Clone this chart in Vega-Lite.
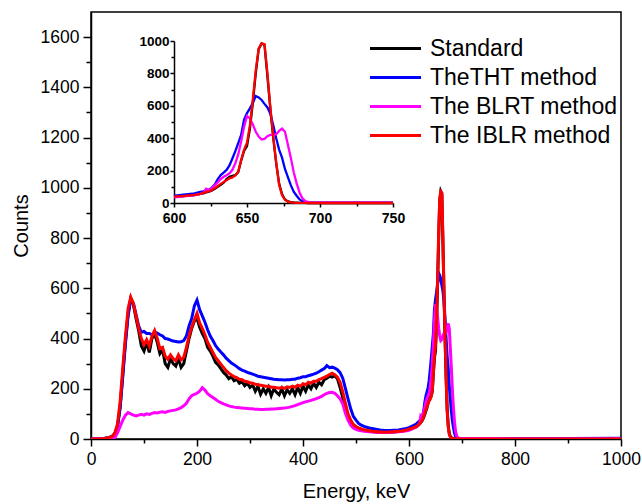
{
"$schema": "https://vega.github.io/schema/vega-lite/v6.json",
"width": 530, "height": 427,
"autosize": "none",
"padding": {"left": 91, "top": 12, "right": 21, "bottom": 65},
"config": {"view": {"stroke": "black", "strokeWidth": 1.5}, "font": "Liberation Sans",
  "axis": {"grid": false, "domainColor": "black", "tickColor": "black", "labelColor": "black", "titleColor": "black", "domainWidth": 1.5, "tickWidth": 1.5, "labelFlush": false, "labelOverlap": false, "titleFontWeight": "normal", "format": "d"}},
"data": {"values": [
{"E":0,"S":0,"T":0,"B":0,"I":0},{"E":10,"S":0,"T":0,"B":0,"I":0},{"E":20,"S":1,"T":1,"B":0,"I":1},{"E":25,"S":2,"T":2,"B":0,"I":2},{"E":30,"S":4,"T":4,"B":0,"I":4},{"E":35,"S":6,"T":6,"B":1,"I":6},{"E":40,"S":10,"T":10,"B":2,"I":11},{"E":45,"S":20,"T":22,"B":6,"I":24},{"E":50,"S":50,"T":50,"B":25,"I":60},{"E":55,"S":130,"T":125,"B":50,"I":150},{"E":60,"S":260,"T":250,"B":75,"I":285},{"E":65,"S":390,"T":380,"B":95,"I":410},{"E":70,"S":500,"T":490,"B":105,"I":520},{"E":75,"S":560,"T":555,"B":100,"I":565},{"E":80,"S":535,"T":540,"B":95,"I":540},{"E":85,"S":480,"T":495,"B":92,"I":490},{"E":90,"S":430,"T":450,"B":95,"I":440},{"E":95,"S":370,"T":425,"B":98,"I":400},
{"E":100,"S":350,"T":428,"B":95,"I":375},{"E":105,"S":385,"T":420,"B":100,"I":395},{"E":110,"S":345,"T":420,"B":98,"I":370},{"E":115,"S":400,"T":415,"B":102,"I":410},{"E":120,"S":420,"T":425,"B":105,"I":432},{"E":125,"S":385,"T":422,"B":104,"I":400},{"E":130,"S":340,"T":415,"B":107,"I":360},{"E":135,"S":355,"T":410,"B":108,"I":365},{"E":140,"S":300,"T":400,"B":106,"I":330},{"E":145,"S":285,"T":398,"B":110,"I":318},{"E":150,"S":320,"T":394,"B":112,"I":335},{"E":155,"S":300,"T":390,"B":114,"I":320},{"E":160,"S":290,"T":388,"B":116,"I":312},{"E":165,"S":320,"T":386,"B":120,"I":335},{"E":170,"S":285,"T":387,"B":125,"I":315},{"E":175,"S":300,"T":392,"B":132,"I":325},{"E":180,"S":350,"T":410,"B":142,"I":365},{"E":185,"S":400,"T":450,"B":160,"I":410},{"E":190,"S":440,"T":480,"B":172,"I":445},{"E":195,"S":470,"T":530,"B":178,"I":475},
{"E":200,"S":480,"T":553,"B":182,"I":500},{"E":205,"S":445,"T":515,"B":190,"I":462},{"E":210,"S":420,"T":490,"B":204,"I":440},{"E":215,"S":400,"T":465,"B":195,"I":415},{"E":220,"S":365,"T":435,"B":180,"I":385},{"E":225,"S":350,"T":410,"B":172,"I":365},{"E":230,"S":330,"T":392,"B":165,"I":345},{"E":235,"S":305,"T":372,"B":158,"I":325},{"E":240,"S":295,"T":358,"B":150,"I":312},{"E":245,"S":280,"T":346,"B":145,"I":298},{"E":250,"S":265,"T":335,"B":140,"I":285},{"E":255,"S":255,"T":322,"B":136,"I":272},{"E":260,"S":240,"T":312,"B":132,"I":262},{"E":265,"S":248,"T":302,"B":129,"I":255},{"E":270,"S":232,"T":296,"B":127,"I":248},{"E":275,"S":238,"T":288,"B":125,"I":244},{"E":280,"S":222,"T":280,"B":124,"I":238},{"E":285,"S":228,"T":274,"B":123,"I":236},{"E":290,"S":212,"T":270,"B":122,"I":230},{"E":295,"S":222,"T":265,"B":121,"I":228},
{"E":300,"S":205,"T":262,"B":120,"I":224},{"E":305,"S":215,"T":258,"B":120,"I":222},{"E":310,"S":190,"T":254,"B":118,"I":218},{"E":315,"S":210,"T":250,"B":118,"I":216},{"E":320,"S":178,"T":248,"B":117,"I":214},{"E":325,"S":200,"T":246,"B":117,"I":212},{"E":330,"S":182,"T":244,"B":118,"I":210},{"E":335,"S":205,"T":242,"B":118,"I":210},{"E":340,"S":172,"T":240,"B":119,"I":206},{"E":345,"S":200,"T":238,"B":119,"I":206},{"E":350,"S":186,"T":237,"B":120,"I":204},{"E":355,"S":176,"T":236,"B":121,"I":202},{"E":360,"S":200,"T":236,"B":122,"I":205},{"E":365,"S":172,"T":235,"B":123,"I":202},{"E":370,"S":196,"T":236,"B":125,"I":208},{"E":375,"S":182,"T":236,"B":127,"I":205},{"E":380,"S":200,"T":238,"B":130,"I":210},{"E":385,"S":176,"T":238,"B":133,"I":206},{"E":390,"S":205,"T":242,"B":137,"I":214},{"E":395,"S":182,"T":244,"B":141,"I":210},
{"E":400,"S":210,"T":248,"B":145,"I":220},{"E":405,"S":190,"T":248,"B":148,"I":216},{"E":410,"S":215,"T":252,"B":151,"I":226},{"E":415,"S":200,"T":255,"B":154,"I":222},{"E":420,"S":222,"T":258,"B":157,"I":230},{"E":425,"S":205,"T":262,"B":161,"I":230},{"E":430,"S":226,"T":268,"B":165,"I":236},{"E":435,"S":216,"T":274,"B":170,"I":240},{"E":440,"S":236,"T":280,"B":176,"I":245},{"E":445,"S":242,"T":292,"B":182,"I":250},{"E":450,"S":250,"T":284,"B":185,"I":257},{"E":455,"S":246,"T":286,"B":186,"I":262},{"E":460,"S":252,"T":282,"B":182,"I":256},{"E":465,"S":240,"T":276,"B":172,"I":246},{"E":470,"S":205,"T":264,"B":160,"I":226},{"E":475,"S":165,"T":242,"B":140,"I":188},{"E":480,"S":122,"T":202,"B":102,"I":142},{"E":485,"S":90,"T":160,"B":75,"I":100},{"E":490,"S":70,"T":120,"B":55,"I":75},{"E":495,"S":55,"T":90,"B":44,"I":58},
{"E":500,"S":48,"T":75,"B":38,"I":50},{"E":505,"S":42,"T":62,"B":35,"I":44},{"E":510,"S":38,"T":55,"B":33,"I":40},{"E":515,"S":35,"T":50,"B":31,"I":37},{"E":520,"S":33,"T":47,"B":30,"I":35},{"E":525,"S":32,"T":44,"B":29,"I":33},{"E":530,"S":30,"T":42,"B":28,"I":31},{"E":535,"S":29,"T":40,"B":27,"I":30},{"E":540,"S":28,"T":38,"B":27,"I":29},{"E":545,"S":28,"T":36,"B":26,"I":28},{"E":550,"S":27,"T":35,"B":26,"I":28},{"E":555,"S":27,"T":34,"B":26,"I":27},{"E":560,"S":27,"T":34,"B":26,"I":28},{"E":565,"S":28,"T":34,"B":27,"I":28},{"E":570,"S":28,"T":35,"B":27,"I":29},{"E":575,"S":29,"T":35,"B":28,"I":30},{"E":580,"S":30,"T":36,"B":29,"I":31},{"E":585,"S":31,"T":38,"B":30,"I":32},{"E":590,"S":33,"T":40,"B":31,"I":34},{"E":595,"S":35,"T":42,"B":33,"I":36},
{"E":600,"S":38,"T":45,"B":35,"I":39},{"E":602,"S":40,"T":47,"B":37,"I":41},{"E":604,"S":41,"T":49,"B":38,"I":42},{"E":606,"S":42,"T":51,"B":40,"I":43},{"E":608,"S":44,"T":53,"B":42,"I":45},{"E":610,"S":45,"T":55,"B":44,"I":46},{"E":612,"S":47,"T":57,"B":46,"I":48},{"E":614,"S":49,"T":60,"B":48,"I":50},{"E":616,"S":52,"T":64,"B":52,"I":53},{"E":618,"S":56,"T":68,"B":56,"I":57},{"E":620,"S":60,"T":72,"B":62,"I":62},{"E":622,"S":66,"T":78,"B":88,"I":68},{"E":624,"S":70,"T":82,"B":80,"I":72},{"E":626,"S":78,"T":95,"B":92,"I":80},{"E":628,"S":88,"T":115,"B":110,"I":92},{"E":630,"S":100,"T":148,"B":128,"I":105},{"E":632,"S":112,"T":172,"B":148,"I":118},{"E":634,"S":125,"T":188,"B":162,"I":130},{"E":636,"S":148,"T":204,"B":172,"I":140},{"E":638,"S":162,"T":232,"B":183,"I":152},
{"E":640,"S":168,"T":275,"B":205,"I":158},{"E":642,"S":172,"T":320,"B":245,"I":170},{"E":644,"S":190,"T":370,"B":300,"I":195},{"E":646,"S":262,"T":420,"B":380,"I":265},{"E":648,"S":322,"T":515,"B":470,"I":330},{"E":650,"S":352,"T":555,"B":537,"I":372},{"E":652,"S":460,"T":584,"B":522,"I":480},{"E":654,"S":620,"T":618,"B":485,"I":640},{"E":656,"S":800,"T":660,"B":440,"I":820},{"E":658,"S":950,"T":652,"B":410,"I":955},{"E":660,"S":985,"T":636,"B":392,"I":985},{"E":662,"S":975,"T":612,"B":396,"I":980},{"E":664,"S":780,"T":590,"B":412,"I":800},{"E":666,"S":580,"T":550,"B":420,"I":590},{"E":668,"S":400,"T":480,"B":420,"I":410},{"E":670,"S":245,"T":400,"B":424,"I":250},{"E":672,"S":120,"T":330,"B":445,"I":112},{"E":674,"S":55,"T":280,"B":460,"I":48},{"E":676,"S":22,"T":210,"B":440,"I":20},{"E":678,"S":10,"T":160,"B":360,"I":8},
{"E":680,"S":5,"T":110,"B":280,"I":4},{"E":682,"S":3,"T":70,"B":190,"I":2},{"E":684,"S":2,"T":45,"B":121,"I":1},{"E":686,"S":1,"T":22,"B":65,"I":1},{"E":688,"S":1,"T":10,"B":28,"I":1},{"E":690,"S":1,"T":4,"B":12,"I":1},{"E":692,"S":0,"T":3,"B":5,"I":0},{"E":694,"S":0,"T":2,"B":3,"I":0},{"E":696,"S":0,"T":2,"B":2,"I":0},{"E":700,"S":0,"T":2,"B":2,"I":0},{"E":720,"S":0,"T":2,"B":2,"I":0},{"E":750,"S":0,"T":2,"B":2,"I":0},{"E":800,"S":0,"T":2,"B":1,"I":0},{"E":900,"S":0,"T":2,"B":1,"I":0},{"E":1000,"S":0,"T":3,"B":1,"I":0}
]},
"transform": [{"fold": ["S", "T", "B", "I"], "as": ["series", "count"]}],
"layer": [
 {"mark": {"type": "line", "strokeWidth": 3, "clip": true},
  "encoding": {
   "x": {"field": "E", "type": "quantitative", "scale": {"domain": [0, 1000], "nice": false},
     "axis": {"values": [0,100,200,300,400,500,600,700,800,900,1000], "labelExpr": "datum.value % 200 === 0 ? datum.label : ''",
       "tickSize": {"condition": {"test": "datum.value % 200 !== 0", "value": 4}, "value": 7},
       "labelFontSize": 17.5, "labelPadding": 4, "title": "Energy, keV", "titleFontSize": 20, "titlePadding": 14}},
   "y": {"field": "count", "type": "quantitative", "scale": {"domain": [0, 1700], "nice": false},
     "axis": {"values": [0,100,200,300,400,500,600,700,800,900,1000,1100,1200,1300,1400,1500,1600], "labelExpr": "datum.value % 200 === 0 ? datum.label : ''",
       "tickSize": {"condition": {"test": "datum.value % 200 !== 0", "value": 5}, "value": 8},
       "labelFontSize": 17.5, "labelPadding": 4, "title": "Counts", "titleFontSize": 20, "titlePadding": 9}},
   "color": {"field": "series", "type": "nominal",
     "scale": {"domain": ["S", "T", "B", "I"], "range": ["#000000", "#0000ff", "#ff00ff", "#ff0000"]},
     "legend": {"orient": "none", "legendX": 293, "legendY": 25, "title": null, "symbolType": "M-5.1,0H5.1", "symbolSize": 100, "symbolStrokeWidth": 3,
       "labelFontSize": 23, "labelColor": "black", "labelOffset": 23, "labelLimit": 400, "rowPadding": 5,
       "labelExpr": "datum.value === 'S' ? 'Standard' : datum.value === 'T' ? 'TheTHT method' : datum.value === 'B' ? 'The BLRT method' : 'The IBLR method'"}}
  }},
 {"transform": [{"filter": "datum.E >= 600 && datum.E <= 750"}],
  "mark": {"type": "line", "strokeWidth": 2.3},
  "encoding": {
   "x": {"field": "E", "type": "quantitative", "scale": {"domain": [600, 750], "range": [83, 302], "nice": false},
     "axis": {"orient": "bottom", "offset": -236, "values": [600,625,650,675,700,725,750], "labelExpr": "datum.value % 50 === 0 ? datum.label : ''",
       "tickSize": {"condition": {"test": "datum.value % 50 !== 0", "value": 3}, "value": 4},
       "labelFontSize": 14, "labelFontWeight": "bold", "labelPadding": 4, "title": null}},
   "y": {"field": "count", "type": "quantitative", "scale": {"domain": [0, 1000], "range": [191, 29], "nice": false},
     "axis": {"orient": "left", "offset": -83, "values": [0,100,200,300,400,500,600,700,800,900,1000], "labelExpr": "datum.value % 200 === 0 ? datum.label : ''",
       "tickSize": {"condition": {"test": "datum.value % 200 !== 0", "value": 3}, "value": 4},
       "labelFontSize": 13.5, "labelFontWeight": "bold", "labelPadding": 1, "title": null}},
   "color": {"field": "series", "type": "nominal", "legend": null}
  }}
],
"resolve": {"scale": {"x": "independent", "y": "independent"}}
}
